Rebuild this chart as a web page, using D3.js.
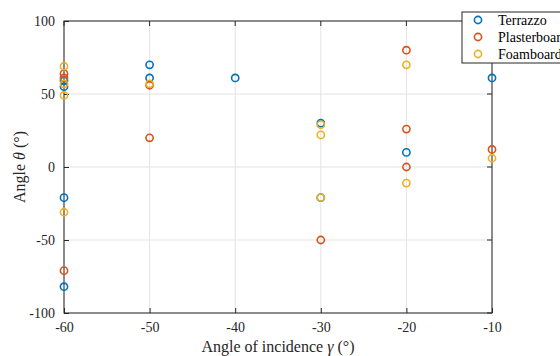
<!DOCTYPE html>
<html>
<head>
<meta charset="utf-8">
<script src="https://cdn.jsdelivr.net/npm/d3@7"></script>
<style>
  html, body { margin: 0; padding: 0; background: #fff; }
  svg { display: block; }
  svg text { font-family: "Liberation Serif", "Times New Roman", serif; }
</style>
</head>
<body>
<svg id="chart" width="560" height="356"></svg>
<script>
// Measured reflection angle θ for each incidence angle γ, per surface material
const seriesNames = ["Terrazzo", "Plasterboard", "Foamboard"];
const seriesColors = ["#0072BD", "#D95319", "#EDB120"];

const terrazzoGamma = [-60, -60, -60, -60, -50, -50, -40, -30, -30, -20, -10];
const terrazzoTheta = [59, 55, -21, -82, 70, 61, 61, 30, -21, 10, 61];

const plasterGamma = [-60, -60, -60, -50, -50, -30, -20, -20, -20, -10];
const plasterTheta = [64, 61, -71, 56, 20, -50, 80, 26, 0, 12];

const foamGamma = [-60, -60, -60, -60, -50, -30, -30, -30, -20, -20, -10];
const foamTheta = [69, 57, 49, -31, 57, 29, 22, -21, 70, -11, 6];

const xTicks = [-60, -50, -40, -30, -20, -10];
const yTicks = [-100, -50, 0, 50, 100];

const svg = d3.select("#chart");
const margin = { left: 64, right: 68, top: 21, bottom: 43 };
const W = 560, H = 356;
const serif = "Liberation Serif, Times New Roman, serif";

const x = d3.scaleLinear().domain([-60, -10]).range([margin.left, W - margin.right]);
const y = d3.scaleLinear().domain([-100, 100]).range([H - margin.bottom, margin.top]);

const x0 = x.range()[0], x1 = x.range()[1];
const y0 = y.range()[0], y1 = y.range()[1];

// grid lines
const grid = svg.append("g").attr("stroke", "#e3e3e3").attr("stroke-width", 1);
grid.selectAll(".gx").data(xTicks).join("line")
  .attr("x1", d => x(d)).attr("x2", d => x(d)).attr("y1", y1).attr("y2", y0);
grid.selectAll(".gy").data(yTicks).join("line")
  .attr("x1", x0).attr("x2", x1).attr("y1", d => y(d)).attr("y2", d => y(d));

// axes with inward ticks; labels use a plain hyphen for negatives
const fmt = d => String(d);
const xAxis = svg.append("g").attr("transform", `translate(0,${y0})`)
  .call(d3.axisBottom(x).tickValues(xTicks).tickFormat(fmt).tickSizeInner(-5).tickSizeOuter(0).tickPadding(9));
const yAxis = svg.append("g").attr("transform", `translate(${x0},0)`)
  .call(d3.axisLeft(y).tickValues(yTicks).tickFormat(fmt).tickSizeInner(-5).tickSizeOuter(0).tickPadding(9));
[xAxis, yAxis].forEach(a => {
  a.attr("font-family", serif).attr("font-size", 14);
  a.select(".domain").remove();
  a.selectAll("line").attr("stroke", "#262626");
  a.selectAll("text").attr("fill", "#262626");
});
xAxis.selectAll("text").attr("dy", "0.7em");

// top / right ticks mirrored
const mirror = svg.append("g").attr("stroke", "#262626");
mirror.selectAll(".tx").data(xTicks).join("line")
  .attr("x1", d => x(d)).attr("x2", d => x(d)).attr("y1", y1).attr("y2", y1 + 5);
mirror.selectAll(".ty").data(yTicks).join("line")
  .attr("x1", x1).attr("x2", x1 - 5).attr("y1", d => y(d)).attr("y2", d => y(d));

// axes box
svg.append("rect")
  .attr("x", x0).attr("y", y1).attr("width", x1 - x0).attr("height", y0 - y1)
  .attr("fill", "none").attr("stroke", "#262626").attr("stroke-width", 1);

// scatter markers
const data = [
  { gamma: terrazzoGamma, theta: terrazzoTheta },
  { gamma: plasterGamma, theta: plasterTheta },
  { gamma: foamGamma, theta: foamTheta }
];
data.forEach((s, i) => {
  const pts = s.gamma.map((g, k) => [g, s.theta[k]]);
  svg.append("g").selectAll("circle").data(pts).join("circle")
    .attr("cx", d => x(d[0])).attr("cy", d => y(d[1])).attr("r", 3.6)
    .attr("fill", "none").attr("stroke", seriesColors[i]).attr("stroke-width", 1.6);
});

// axis labels
svg.append("text")
  .attr("x", (x0 + x1) / 2).attr("y", 352)
  .attr("text-anchor", "middle").attr("fill", "#262626")
  .attr("font-family", serif).attr("font-size", 16)
  .html('Angle of incidence <tspan font-style="italic">γ</tspan> (°)');
svg.append("text")
  .attr("transform", `translate(25,${(y0 + y1) / 2}) rotate(-90)`)
  .attr("text-anchor", "middle").attr("fill", "#262626")
  .attr("font-family", serif).attr("font-size", 16)
  .html('Angle <tspan font-style="italic">θ</tspan> (°)');

// legend (box runs past the right edge of the figure)
const lg = svg.append("g");
lg.append("rect").attr("x", 462).attr("y", 12).attr("width", 110).attr("height", 51)
  .attr("fill", "#fff").attr("stroke", "#262626").attr("stroke-width", 1);
seriesNames.forEach((n, i) => {
  const cy = 20 + i * 17;
  lg.append("circle").attr("cx", 478).attr("cy", cy).attr("r", 3.6)
    .attr("fill", "none").attr("stroke", seriesColors[i]).attr("stroke-width", 1.6);
  lg.append("text").attr("x", 498).attr("y", cy).attr("dy", "0.35em")
    .attr("fill", "#000").attr("font-family", serif).attr("font-size", 14).text(n);
});
</script>
</body>
</html>
